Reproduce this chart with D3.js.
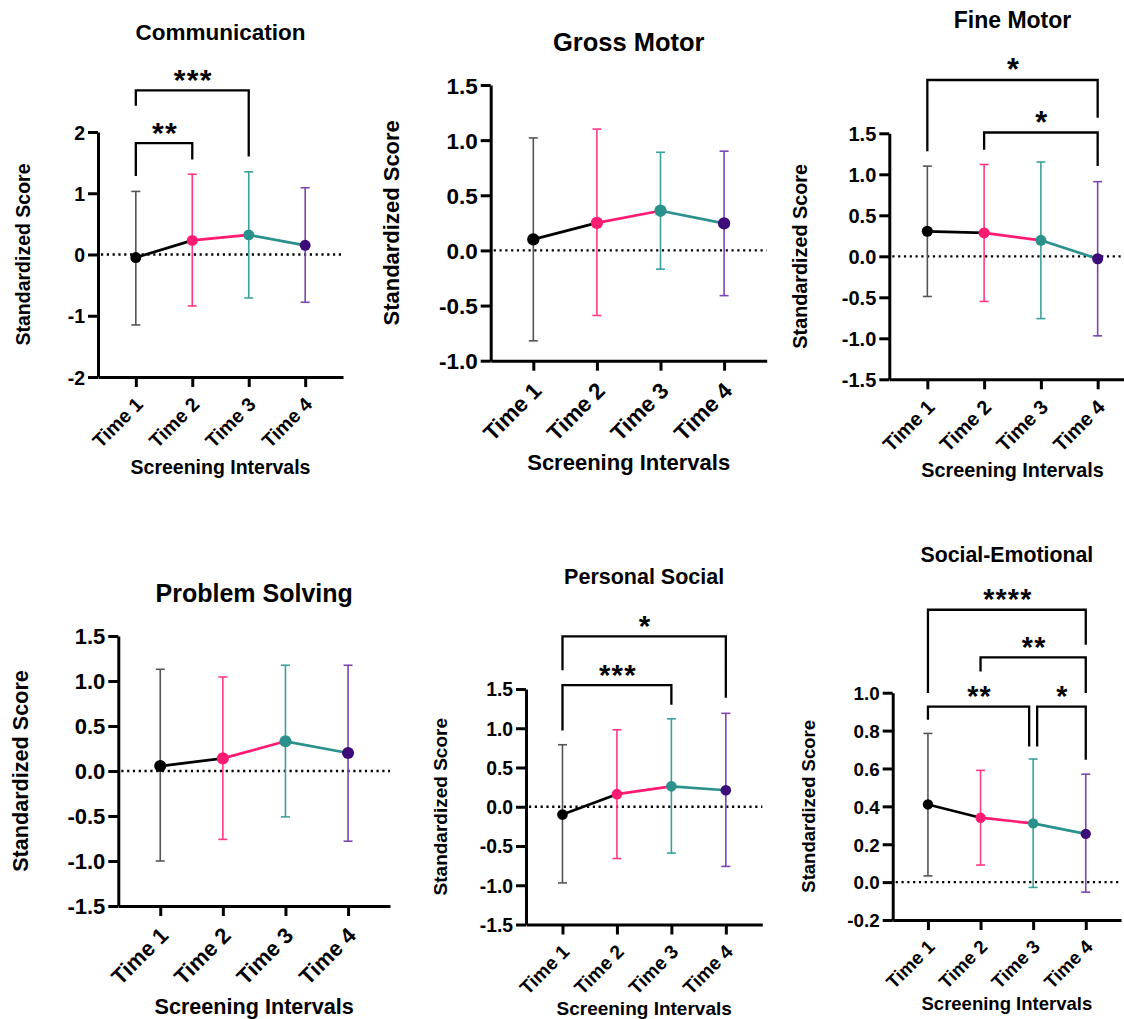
<!DOCTYPE html>
<html>
<head>
<meta charset="utf-8">
<script src="https://cdn.jsdelivr.net/npm/d3@7/dist/d3.min.js"></script>
<style>
  html, body { margin: 0; padding: 0; background: #fff; }
  svg { display: block; }
  text { font-family: "Liberation Sans", Arial, sans-serif; font-weight: bold; fill: #000; }
</style>
</head>
<body>
<svg id="chart" width="1124" height="1019"></svg>
<script>
// ---------------- DATA ----------------
const categories = ["Time 1", "Time 2", "Time 3", "Time 4"];

// Communication
const commMean  = [-0.05, 0.23, 0.32, 0.15];
const commUpper = [1.03, 1.31, 1.35, 1.09];
const commLower = [-1.15, -0.84, -0.71, -0.78];
const commTicks = [-2, -1, 0, 1, 2];
const commSig = [
  { a: 0, b: 1, label: "**",  y: 1.82, ya: 1.28, yb: 1.55 },
  { a: 0, b: 2, label: "***", y: 2.68, ya: 2.43, yb: 1.60 }
];

// Gross Motor
const grossMean  = [0.10, 0.25, 0.36, 0.245];
const grossUpper = [1.02, 1.10, 0.89, 0.90];
const grossLower = [-0.82, -0.59, -0.17, -0.41];
const grossTicks = [-1.0, -0.5, 0.0, 0.5, 1.0, 1.5];
const grossSig = [];

// Fine Motor
const fineMean  = [0.305, 0.285, 0.195, -0.03];
const fineUpper = [1.10, 1.12, 1.15, 0.91];
const fineLower = [-0.49, -0.55, -0.76, -0.97];
const fineTicks = [-1.5, -1.0, -0.5, 0.0, 0.5, 1.0, 1.5];
const fineSig = [
  { a: 0, b: 3, label: "*", y: 2.15, ya: 1.28, yb: 1.69 },
  { a: 1, b: 3, label: "*", y: 1.51, ya: 1.30, yb: 1.10 }
];

// Problem Solving
const probMean  = [0.055, 0.14, 0.33, 0.20];
const probUpper = [1.13, 1.045, 1.175, 1.175];
const probLower = [-1.0, -0.76, -0.51, -0.78];
const probTicks = [-1.5, -1.0, -0.5, 0.0, 0.5, 1.0, 1.5];
const probSig = [];

// Personal Social
const persMean  = [-0.10, 0.16, 0.26, 0.21];
const persUpper = [0.79, 0.98, 1.12, 1.19];
const persLower = [-0.97, -0.66, -0.59, -0.76];
const persTicks = [-1.5, -1.0, -0.5, 0.0, 0.5, 1.0, 1.5];
const persSig = [
  { a: 0, b: 2, label: "***", y: 1.55, ya: 0.97, yb: 1.30 },
  { a: 0, b: 3, label: "*",   y: 2.17, ya: 1.74, yb: 1.39 }
];

// Social-Emotional
const socMean  = [0.41, 0.34, 0.31, 0.255];
const socUpper = [0.785, 0.59, 0.65, 0.57];
const socLower = [0.033, 0.09, -0.028, -0.053];
const socTicks = [-0.2, 0.0, 0.2, 0.4, 0.6, 0.8, 1.0];
const socSig = [
  { a: 0, b: 3, label: "****", y: 1.438, ya: 0.998, yb: 1.253 },
  { a: 1, b: 3, label: "**",   y: 1.186, ya: 1.112, yb: 0.998 },
  { a: 0, b: 2, label: "**",   y: 0.927, ya: 0.857, yb: 0.716 },
  { a: 2, b: 3, label: "*",    y: 0.927, ya: 0.716, yb: 0.646 }
];

const titles = ["Communication", "Gross Motor", "Fine Motor", "Problem Solving", "Personal Social", "Social-Emotional"];
const yAxisTitle = "Standardized Score";
const xAxisTitle = "Screening Intervals";

// colours per time point
const pointColors = ["#000000", "#ff1a72", "#2a918c", "#3c0c78"];
const barColors   = ["#555555", "#ff3a86", "#3ba19c", "#7b45b3"];

// hyphen-minus formatters (as in the original figure)
const fmtInt = v => d3.format("d")(v).replace("\u2212", "-");
const fmtOne = v => d3.format(".1f")(v).replace("\u2212", "-");

// ---------------- LAYOUT ----------------
const panels = [
  { title: titles[0], mean: commMean, upper: commUpper, lower: commLower, ticks: commTicks, fmt: fmtInt, sig: commSig,
    x0: 98, x1: 343, yTop: 132, yBot: 377, fsTitle: 22.5, fsLab: 19.5, fsTick: 19.5, titleY: 32, yLabX: 23, xLabY: 467 },
  { title: titles[1], mean: grossMean, upper: grossUpper, lower: grossLower, ticks: grossTicks, fmt: fmtOne, sig: grossSig,
    x0: 490.7, x1: 766.7, yTop: 85, yBot: 360.7, fsTitle: 25.5, fsLab: 22, fsTick: 22.5, titleY: 42, yLabX: 390.7, xLabY: 461.7 },
  { title: titles[2], mean: fineMean, upper: fineUpper, lower: fineLower, ticks: fineTicks, fmt: fmtOne, sig: fineSig,
    x0: 889.3, x1: 1135.7, yTop: 133.3, yBot: 379.3, fsTitle: 23, fsLab: 19.8, fsTick: 20, titleY: 20, yLabX: 800, xLabY: 470 },
  { title: titles[3], mean: probMean, upper: probUpper, lower: probLower, ticks: probTicks, fmt: fmtOne, sig: probSig,
    x0: 118.3, x1: 390, yTop: 636, yBot: 906, fsTitle: 25, fsLab: 21.6, fsTick: 22, titleY: 593.3, yLabX: 20.7, xLabY: 1006.7 },
  { title: titles[4], mean: persMean, upper: persUpper, lower: persLower, ticks: persTicks, fmt: fmtOne, sig: persSig,
    x0: 526, x1: 762.3, yTop: 689, yBot: 924.5, fsTitle: 21.5, fsLab: 19, fsTick: 19.3, titleY: 576, yLabX: 440, xLabY: 1008 },
  { title: titles[5], mean: socMean, upper: socUpper, lower: socLower, ticks: socTicks, fmt: fmtOne, sig: socSig,
    x0: 892.7, x1: 1121, yTop: 692.7, yBot: 920, fsTitle: 21.3, fsLab: 18.5, fsTick: 18.8, titleY: 554, yLabX: 808.3, xLabY: 1003.3 }
];

const svg = d3.select("#chart");
svg.append("rect").attr("width", 1124).attr("height", 1019).attr("fill", "#fff");

panels.forEach(p => {
  const g = svg.append("g");
  const x = d3.scalePoint().domain(categories).range([p.x0, p.x1]).padding(0.67);
  const y = d3.scaleLinear().domain([p.ticks[0], p.ticks[p.ticks.length - 1]]).range([p.yBot, p.yTop]);
  const fs = p.fsLab;
  const ft = p.fsTick;
  const tickLen = 10;

  // zero dotted line
  g.append("line")
    .attr("x1", p.x0 + 3).attr("x2", p.x1)
    .attr("y1", y(0)).attr("y2", y(0))
    .attr("stroke", "#000").attr("stroke-width", 2.3)
    .attr("stroke-dasharray", "2.2,3.6");

  // Y axis
  const yAxis = g.append("g").attr("transform", `translate(${p.x0},0)`)
    .call(d3.axisLeft(y).tickValues(p.ticks).tickFormat(p.fmt).tickSize(tickLen).tickSizeOuter(0).tickPadding(3));
  yAxis.select(".domain").attr("stroke", "#000").attr("stroke-width", 3);
  yAxis.selectAll(".tick line").attr("stroke", "#000").attr("stroke-width", 3);
  yAxis.selectAll(".tick text")
    .attr("font-size", ft).attr("font-family", "Liberation Sans, Arial, sans-serif")
    .attr("font-weight", "bold").attr("fill", "#000")
    .attr("dy", "0.36em");

  // X axis
  const xAxis = g.append("g").attr("transform", `translate(0,${p.yBot})`)
    .call(d3.axisBottom(x).tickSize(tickLen).tickSizeOuter(0));
  xAxis.select(".domain").attr("stroke", "#000").attr("stroke-width", 3);
  xAxis.selectAll(".tick line").attr("stroke", "#000").attr("stroke-width", 3);
  xAxis.selectAll(".tick text")
    .attr("font-size", ft).attr("font-family", "Liberation Sans, Arial, sans-serif")
    .attr("font-weight", "bold").attr("fill", "#000")
    .attr("text-anchor", "end")
    .attr("y", null).attr("dy", null)
    .attr("transform", `translate(${0.4 * ft},${tickLen + 0.95 * ft}) rotate(-45)`);

  // error bars
  const capW = 4.5;
  categories.forEach((c, i) => {
    const cx = x(c);
    const eb = g.append("g").attr("stroke", barColors[i]).attr("stroke-width", 1.6).attr("fill", "none");
    eb.append("line").attr("x1", cx).attr("x2", cx).attr("y1", y(p.upper[i])).attr("y2", y(p.lower[i]));
    eb.append("line").attr("x1", cx - capW).attr("x2", cx + capW).attr("y1", y(p.upper[i])).attr("y2", y(p.upper[i]));
    eb.append("line").attr("x1", cx - capW).attr("x2", cx + capW).attr("y1", y(p.lower[i])).attr("y2", y(p.lower[i]));
  });

  // connecting segments coloured by start point
  for (let i = 0; i < categories.length - 1; i++) {
    g.append("line")
      .attr("x1", x(categories[i])).attr("y1", y(p.mean[i]))
      .attr("x2", x(categories[i + 1])).attr("y2", y(p.mean[i + 1]))
      .attr("stroke", pointColors[i]).attr("stroke-width", 2.7).attr("stroke-linecap", "round");
  }

  // points
  g.selectAll("circle.pt").data(p.mean).join("circle")
    .attr("class", "pt")
    .attr("cx", (d, i) => x(categories[i]))
    .attr("cy", d => y(d))
    .attr("r", 0.28 * fs)
    .attr("fill", (d, i) => pointColors[i]);

  // significance brackets
  p.sig.forEach(s => {
    let xa = x(categories[s.a]);
    let xb = x(categories[s.b]);
    // separate brackets at the same level that share an end point
    p.sig.forEach(o => {
      if (o === s || o.y !== s.y) return;
      if (o.a === s.b) xb -= 4;
      if (o.b === s.a) xa += 4;
    });
    g.append("path")
      .attr("d", `M${xa},${y(s.ya)}V${y(s.y)}H${xb}V${y(s.yb)}`)
      .attr("fill", "none").attr("stroke", "#000").attr("stroke-width", 2.3);
    const sfs = 1.55 * fs;
    g.append("text")
      .attr("x", (xa + xb) / 2 + 1)
      .attr("y", y(s.y) - 17 + 0.56 * sfs)
      .attr("text-anchor", "middle")
      .attr("font-size", sfs)
      .attr("letter-spacing", 1.2)
      .text(s.label);
  });

  // titles
  const cxAxis = (p.x0 + p.x1) / 2;
  g.append("text")
    .attr("x", cxAxis).attr("y", p.titleY + 0.36 * p.fsTitle)
    .attr("text-anchor", "middle").attr("font-size", p.fsTitle)
    .text(p.title);
  g.append("text")
    .attr("transform", `translate(${p.yLabX + 0.36 * fs},${(p.yTop + p.yBot) / 2}) rotate(-90)`)
    .attr("text-anchor", "middle").attr("font-size", fs)
    .text(yAxisTitle);
  g.append("text")
    .attr("x", cxAxis).attr("y", p.xLabY + 0.36 * fs)
    .attr("text-anchor", "middle").attr("font-size", fs)
    .text(xAxisTitle);
});
</script>
</body>
</html>
